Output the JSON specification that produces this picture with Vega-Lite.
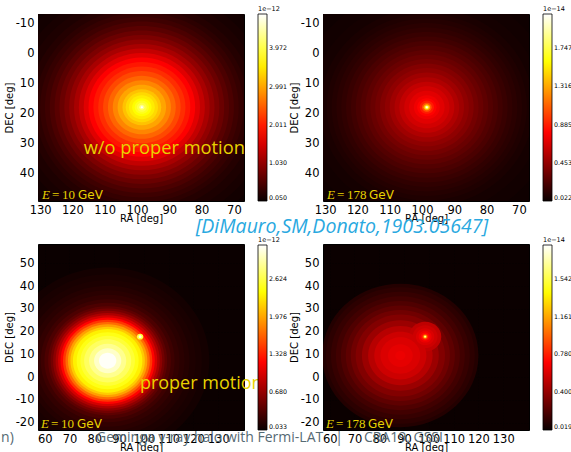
{
  "$schema": "https://vega.github.io/schema/vega-lite/v6.json",
  "padding": {"left": 0, "top": 5, "right": 0, "bottom": 0},
  "background": "white",
  "datasets": {
    "tl": [
      {"ra": 98.5, "dec": 17.8, "r": 47, "v": 0.08},
      {"ra": 98.5, "dec": 17.8, "r": 43, "v": 0.11},
      {"ra": 98.5, "dec": 17.8, "r": 40, "v": 0.14},
      {"ra": 98.5, "dec": 17.8, "r": 37.5, "v": 0.18},
      {"ra": 98.5, "dec": 17.8, "r": 35, "v": 0.23},
      {"ra": 98.5, "dec": 17.8, "r": 33, "v": 0.29},
      {"ra": 98.5, "dec": 17.8, "r": 31.5, "v": 0.35},
      {"ra": 98.5, "dec": 17.8, "r": 30, "v": 0.42},
      {"ra": 98.5, "dec": 17.8, "r": 28.5, "v": 0.51},
      {"ra": 98.5, "dec": 17.8, "r": 27, "v": 0.61},
      {"ra": 98.5, "dec": 17.8, "r": 25.5, "v": 0.73},
      {"ra": 98.5, "dec": 17.8, "r": 24, "v": 0.86},
      {"ra": 98.5, "dec": 17.8, "r": 22.5, "v": 1.01},
      {"ra": 98.5, "dec": 17.8, "r": 21, "v": 1.18},
      {"ra": 98.5, "dec": 17.8, "r": 19.5, "v": 1.37},
      {"ra": 98.5, "dec": 17.8, "r": 18, "v": 1.58},
      {"ra": 98.5, "dec": 17.8, "r": 16.5, "v": 1.8},
      {"ra": 98.5, "dec": 17.8, "r": 15, "v": 1.96},
      {"ra": 98.5, "dec": 17.8, "r": 13.5, "v": 2.13},
      {"ra": 98.5, "dec": 17.8, "r": 12, "v": 2.32},
      {"ra": 98.5, "dec": 17.8, "r": 10.5, "v": 2.53},
      {"ra": 98.5, "dec": 17.8, "r": 9, "v": 2.76},
      {"ra": 98.5, "dec": 17.8, "r": 7.5, "v": 2.98},
      {"ra": 98.5, "dec": 17.8, "r": 6, "v": 3.2},
      {"ra": 98.5, "dec": 17.8, "r": 5, "v": 3.36},
      {"ra": 98.5, "dec": 17.8, "r": 4, "v": 3.5},
      {"ra": 98.5, "dec": 17.8, "r": 3, "v": 3.63},
      {"ra": 98.5, "dec": 17.8, "r": 2.2, "v": 3.78},
      {"ra": 98.5, "dec": 17.8, "r": 1.5, "v": 3.95},
      {"ra": 98.5, "dec": 17.8, "r": 0.8, "v": 4.3},
      {"ra": 98.5, "dec": 17.8, "r": 0.35, "v": 4.8}
    ],
    "tr": [
      {"ra": 98.5, "dec": 17.8, "r": 45, "v": 0.035},
      {"ra": 98.5, "dec": 17.8, "r": 40, "v": 0.045},
      {"ra": 98.5, "dec": 17.8, "r": 36, "v": 0.055},
      {"ra": 98.5, "dec": 17.8, "r": 33, "v": 0.07},
      {"ra": 98.5, "dec": 17.8, "r": 31, "v": 0.085},
      {"ra": 98.5, "dec": 17.8, "r": 29.5, "v": 0.1},
      {"ra": 98.5, "dec": 17.8, "r": 28, "v": 0.12},
      {"ra": 98.5, "dec": 17.8, "r": 26.5, "v": 0.14},
      {"ra": 98.5, "dec": 17.8, "r": 25, "v": 0.165},
      {"ra": 98.5, "dec": 17.8, "r": 23.5, "v": 0.19},
      {"ra": 98.5, "dec": 17.8, "r": 22, "v": 0.22},
      {"ra": 98.5, "dec": 17.8, "r": 20.5, "v": 0.25},
      {"ra": 98.5, "dec": 17.8, "r": 19, "v": 0.285},
      {"ra": 98.5, "dec": 17.8, "r": 17.5, "v": 0.32},
      {"ra": 98.5, "dec": 17.8, "r": 16, "v": 0.355},
      {"ra": 98.5, "dec": 17.8, "r": 14.5, "v": 0.4},
      {"ra": 98.5, "dec": 17.8, "r": 13, "v": 0.44},
      {"ra": 98.5, "dec": 17.8, "r": 11.5, "v": 0.49},
      {"ra": 98.5, "dec": 17.8, "r": 10, "v": 0.54},
      {"ra": 98.5, "dec": 17.8, "r": 8.5, "v": 0.6},
      {"ra": 98.5, "dec": 17.8, "r": 7, "v": 0.65},
      {"ra": 98.5, "dec": 17.8, "r": 5.5, "v": 0.7},
      {"ra": 98.5, "dec": 17.8, "r": 4, "v": 0.75},
      {"ra": 98.5, "dec": 17.8, "r": 3, "v": 0.8},
      {"ra": 98.5, "dec": 17.8, "r": 2.2, "v": 0.88},
      {"ra": 98.5, "dec": 17.8, "r": 1.5, "v": 1.05},
      {"ra": 98.5, "dec": 17.8, "r": 1, "v": 1.35},
      {"ra": 98.5, "dec": 17.8, "r": 0.6, "v": 1.75},
      {"ra": 98.5, "dec": 17.8, "r": 0.3, "v": 2.1}
    ],
    "bl": [
      {"ra": 85.4, "dec": 7.2, "r": 41, "v": 0.075},
      {"ra": 85.4, "dec": 7.2, "r": 38, "v": 0.1},
      {"ra": 85.4, "dec": 7.2, "r": 35.5, "v": 0.12},
      {"ra": 85.4, "dec": 7.2, "r": 33, "v": 0.15},
      {"ra": 85.4, "dec": 7.2, "r": 31, "v": 0.18},
      {"ra": 85.4, "dec": 7.2, "r": 29, "v": 0.22},
      {"ra": 85.4, "dec": 7.2, "r": 27, "v": 0.27},
      {"ra": 85.4, "dec": 7.2, "r": 25.5, "v": 0.34},
      {"ra": 85.4, "dec": 7.2, "r": 24, "v": 0.42},
      {"ra": 85.4, "dec": 7.2, "r": 23, "v": 0.52},
      {"ra": 85.4, "dec": 7.2, "r": 22, "v": 0.65},
      {"ra": 85.4, "dec": 7.2, "r": 21, "v": 0.8},
      {"ra": 85.4, "dec": 7.2, "r": 20, "v": 0.98},
      {"ra": 85.4, "dec": 7.2, "r": 19, "v": 1.2},
      {"ra": 85.4, "dec": 7.2, "r": 18, "v": 1.45},
      {"ra": 85.4, "dec": 7.2, "r": 17, "v": 1.7},
      {"ra": 85.4, "dec": 7.2, "r": 16, "v": 1.95},
      {"ra": 85.4, "dec": 7.2, "r": 15, "v": 2.15},
      {"ra": 85.4, "dec": 7.2, "r": 14, "v": 2.33},
      {"ra": 85.4, "dec": 7.2, "r": 12.5, "v": 2.46},
      {"ra": 85.4, "dec": 7.2, "r": 11, "v": 2.57},
      {"ra": 85.4, "dec": 7.2, "r": 9.5, "v": 2.7},
      {"ra": 85.4, "dec": 7.2, "r": 7.5, "v": 2.85},
      {"ra": 85.4, "dec": 7.2, "r": 5.5, "v": 3.03},
      {"ra": 85.4, "dec": 7.2, "r": 3.5, "v": 3.18},
      {"ra": 98.5, "dec": 17.8, "r": 1.3, "v": 2.6},
      {"ra": 98.5, "dec": 17.8, "r": 0.6, "v": 3.1}
    ],
    "br": [
      {"ra": 88.5, "dec": 9.5, "r": 31.5, "v": 0.085},
      {"ra": 88.5, "dec": 9.5, "r": 30, "v": 0.11},
      {"ra": 88.5, "dec": 9.5, "r": 28, "v": 0.14},
      {"ra": 88.5, "dec": 9.5, "r": 26, "v": 0.17},
      {"ra": 88.5, "dec": 9.5, "r": 24, "v": 0.21},
      {"ra": 88.5, "dec": 9.5, "r": 22, "v": 0.25},
      {"ra": 88.5, "dec": 9.5, "r": 20, "v": 0.3},
      {"ra": 88.5, "dec": 9.5, "r": 18, "v": 0.35},
      {"ra": 88.5, "dec": 9.5, "r": 15.5, "v": 0.42},
      {"ra": 88.5, "dec": 9.5, "r": 13, "v": 0.5},
      {"ra": 88.5, "dec": 9.5, "r": 10.5, "v": 0.56},
      {"ra": 88.5, "dec": 9.5, "r": 8, "v": 0.6},
      {"ra": 88.5, "dec": 9.5, "r": 5, "v": 0.63},
      {"ra": 88.5, "dec": 9.5, "r": 2, "v": 0.65},
      {"ra": 98.5, "dec": 17.8, "r": 6.5, "v": 0.52},
      {"ra": 98.5, "dec": 17.8, "r": 5, "v": 0.56},
      {"ra": 98.5, "dec": 17.8, "r": 3.7, "v": 0.6},
      {"ra": 98.5, "dec": 17.8, "r": 2.6, "v": 0.65},
      {"ra": 98.5, "dec": 17.8, "r": 1.8, "v": 0.72},
      {"ra": 98.5, "dec": 17.8, "r": 1.2, "v": 0.84},
      {"ra": 98.5, "dec": 17.8, "r": 0.8, "v": 1.05},
      {"ra": 98.5, "dec": 17.8, "r": 0.5, "v": 1.45},
      {"ra": 98.5, "dec": 17.8, "r": 0.28, "v": 1.85}
    ]
  },
  "config": {
    "view": {"fill": "#0b0000", "stroke": "#000000", "strokeWidth": 1},
    "axis": {
      "labelFont": "DejaVu Sans", "labelFontSize": 11.5, "labelColor": "#000000",
      "titleFont": "DejaVu Sans", "titleFontSize": 10, "titleFontWeight": "normal", "titleColor": "#000000",
      "ticks": false, "domain": false, "grid": true, "gridColor": "#000000", "gridDash": [1, 2], "gridOpacity": 0.5,
      "labelFlush": false, "labelOverlap": false, "zindex": 1
    },
    "axisX": {"labelPadding": 3, "titlePadding": -2},
    "axisY": {"labelPadding": 4, "titlePadding": 1},
    "legend": {
      "orient": "none", "direction": "vertical", "padding": 0,
      "gradientThickness": 9, "labelFont": "DejaVu Sans", "labelFontSize": 6.3, "labelColor": "#000000",
      "titleFont": "DejaVu Sans", "titleFontSize": 6.5, "titleFontWeight": "normal", "titleColor": "#000000", "titlePadding": 1.5,
      "labelOffset": 2.5, "gradientStrokeColor": "#000000", "gradientStrokeWidth": 0.8, "labelFlush": false, "labelOverlap": false
    }
  },
  "columns": 2,
  "bounds": "flush",
  "spacing": {"row": 43, "column": 79},
  "resolve": {
    "scale": {"x": "independent", "y": "independent", "color": "independent", "size": "independent"},
    "axis": {"x": "independent", "y": "independent"},
    "legend": {"color": "independent"}
  },
  "concat": [
    {
      "width": 206, "height": 187,
      "layer": [
        {
          "data": {"name": "tl"},
          "mark": {"type": "point", "filled": true, "opacity": 1, "strokeWidth": 0, "clip": true, "shape": "M-1,0A1,0.931,0,1,1,1,0A1,0.931,0,1,1,-1,0Z"},
          "encoding": {
            "x": {"field": "ra", "type": "quantitative", "scale": {"domain": [66.87, 130.65], "reverse": true, "nice": false, "zero": false}, "axis": {"values": [130, 120, 110, 100, 90, 80, 70], "tickCount": 20, "title": "RA [deg]", "labelOverlap": false, "labelExpr": "replace(datum.label, '−', '-')"}},
            "y": {"field": "dec", "type": "quantitative", "scale": {"domain": [-13.2, 49.0], "reverse": true, "nice": false, "zero": false}, "axis": {"values": [-10, 0, 10, 20, 30, 40], "tickCount": 20, "title": "DEC [deg]", "labelOverlap": false, "labelExpr": "replace(datum.label, '−', '-')"}},
            "size": {"field": "r", "type": "quantitative", "scale": {"type": "pow", "exponent": 2, "domain": [0, 1], "range": [0, 41.73]}, "legend": null},
            "color": {"field": "v", "type": "quantitative", "scale": {"domain": [0.05, 1.804, 3.635, 4.855], "range": ["#0b0000", "#ff0000", "#ffff00", "#ffffff"], "interpolate": "rgb"},
              "legend": {"title": "1e−12", "values": [0.05, 1.03, 2.011, 2.991, 3.972], "format": ".3f", "legendX": 220, "legendY": -8, "gradientLength": 187}},
            "order": {"field": "v", "type": "quantitative"}
          }
        },
        {"data": {"values": [{}]}, "mark": {"type": "text", "font": "Open Sans", "fontSize": 18.3, "color": "#e8d200", "align": "left", "baseline": "alphabetic"},
          "encoding": {"x": {"datum": 116.5}, "y": {"datum": 33.5}, "text": {"value": "w/o proper motion"}}},
        {"data": {"values": [{}]}, "mark": {"type": "text", "font": "Liberation Serif", "fontStyle": "italic", "fontSize": 13, "color": "#e8d200", "align": "left", "baseline": "alphabetic"},
          "encoding": {"x": {"datum": 129.41}, "y": {"datum": 48.34}, "text": {"value": "E"}}},
        {"data": {"values": [{}]}, "mark": {"type": "text", "font": "Liberation Serif", "fontSize": 13, "color": "#e8d200", "align": "left", "baseline": "alphabetic", "dx": 10},
          "encoding": {"x": {"datum": 129.41}, "y": {"datum": 48.34}, "text": {"value": "="}}},
        {"data": {"values": [{}]}, "mark": {"type": "text", "font": "Liberation Serif", "fontSize": 13, "color": "#e8d200", "align": "left", "baseline": "alphabetic", "dx": 20},
          "encoding": {"x": {"datum": 129.41}, "y": {"datum": 48.34}, "text": {"value": "10"}}},
        {"data": {"values": [{}]}, "mark": {"type": "text", "font": "DejaVu Sans", "fontSize": 12, "color": "#e8d200", "align": "left", "baseline": "alphabetic", "dx": 36},
          "encoding": {"x": {"datum": 129.41}, "y": {"datum": 48.34}, "text": {"value": "GeV"}}}
      ]
    },
    {
      "width": 206, "height": 187,
      "layer": [
        {
          "data": {"name": "tr"},
          "mark": {"type": "point", "filled": true, "opacity": 1, "strokeWidth": 0, "clip": true, "shape": "M-1,0A1,0.931,0,1,1,1,0A1,0.931,0,1,1,-1,0Z"},
          "encoding": {
            "x": {"field": "ra", "type": "quantitative", "scale": {"domain": [66.87, 130.65], "reverse": true, "nice": false, "zero": false}, "axis": {"values": [130, 120, 110, 100, 90, 80, 70], "tickCount": 20, "title": "RA [deg]", "labelOverlap": false, "labelExpr": "replace(datum.label, '−', '-')"}},
            "y": {"field": "dec", "type": "quantitative", "scale": {"domain": [-13.2, 49.0], "reverse": true, "nice": false, "zero": false}, "axis": {"values": [-10, 0, 10, 20, 30, 40], "tickCount": 20, "title": "DEC [deg]", "labelOverlap": false, "labelExpr": "replace(datum.label, '−', '-')"}},
            "size": {"field": "r", "type": "quantitative", "scale": {"type": "pow", "exponent": 2, "domain": [0, 1], "range": [0, 41.73]}, "legend": null},
            "color": {"field": "v", "type": "quantitative", "scale": {"domain": [0.022, 0.793, 1.598, 2.135], "range": ["#0b0000", "#ff0000", "#ffff00", "#ffffff"], "interpolate": "rgb"},
              "legend": {"title": "1e−14", "values": [0.022, 0.453, 0.885, 1.316, 1.747], "format": ".3f", "legendX": 220, "legendY": -8, "gradientLength": 187}},
            "order": {"field": "v", "type": "quantitative"}
          }
        },
        {"data": {"values": [{}]}, "mark": {"type": "text", "font": "Liberation Serif", "fontStyle": "italic", "fontSize": 13, "color": "#e8d200", "align": "left", "baseline": "alphabetic"},
          "encoding": {"x": {"datum": 129.41}, "y": {"datum": 48.34}, "text": {"value": "E"}}},
        {"data": {"values": [{}]}, "mark": {"type": "text", "font": "Liberation Serif", "fontSize": 13, "color": "#e8d200", "align": "left", "baseline": "alphabetic", "dx": 10},
          "encoding": {"x": {"datum": 129.41}, "y": {"datum": 48.34}, "text": {"value": "="}}},
        {"data": {"values": [{}]}, "mark": {"type": "text", "font": "Liberation Serif", "fontSize": 13, "color": "#e8d200", "align": "left", "baseline": "alphabetic", "dx": 20},
          "encoding": {"x": {"datum": 129.41}, "y": {"datum": 48.34}, "text": {"value": "178"}}},
        {"data": {"values": [{}]}, "mark": {"type": "text", "font": "DejaVu Sans", "fontSize": 12, "color": "#e8d200", "align": "left", "baseline": "alphabetic", "dx": 42},
          "encoding": {"x": {"datum": 129.41}, "y": {"datum": 48.34}, "text": {"value": "GeV"}}},
        {"data": {"values": [{}]}, "mark": {"type": "text", "font": "Open Sans", "fontStyle": "italic", "fontSize": 19.5, "color": "#29a8e0", "align": "center", "baseline": "middle"},
          "encoding": {"x": {"datum": 124.8}, "y": {"datum": 57.5}, "text": {"value": "[DiMauro,SM,Donato,1903.05647]"}}}
      ]
    },
    {
      "width": 206, "height": 186,
      "layer": [
        {
          "data": {"name": "bl"},
          "mark": {"type": "point", "filled": true, "opacity": 1, "strokeWidth": 0, "clip": true, "shape": "M-1,0A1,0.918,0,1,1,1,0A1,0.918,0,1,1,-1,0Z"},
          "encoding": {
            "x": {"field": "ra", "type": "quantitative", "scale": {"domain": [57.3, 140.4], "nice": false, "zero": false}, "axis": {"values": [60, 70, 80, 90, 100, 110, 120, 130], "tickCount": 20, "title": "RA [deg]", "labelOverlap": false, "labelExpr": "replace(datum.label, '−', '-')"}},
            "y": {"field": "dec", "type": "quantitative", "scale": {"domain": [-23.2, 58.5], "nice": false, "zero": false}, "axis": {"values": [-20, -10, 0, 10, 20, 30, 40, 50], "tickCount": 20, "title": "DEC [deg]", "labelOverlap": false, "labelExpr": "replace(datum.label, '−', '-')"}},
            "size": {"field": "r", "type": "quantitative", "scale": {"type": "pow", "exponent": 2, "domain": [0, 1], "range": [0, 24.6]}, "legend": null},
            "color": {"field": "v", "type": "quantitative", "scale": {"domain": [0.033, 1.19, 2.398, 3.203], "range": ["#0b0000", "#ff0000", "#ffff00", "#ffffff"], "interpolate": "rgb"},
              "legend": {"title": "1e−12", "values": [0.033, 0.68, 1.328, 1.976, 2.624], "format": ".3f", "legendX": 220, "legendY": -7, "gradientLength": 185}},
            "order": {"field": "v", "type": "quantitative"}
          }
        },
        {"data": {"values": [{}]}, "mark": {"type": "text", "font": "Open Sans", "fontSize": 18, "color": "#e8d200", "align": "left", "baseline": "alphabetic"},
          "encoding": {"x": {"datum": 98.4}, "y": {"datum": -5.3}, "text": {"value": "proper motion"}}},
        {"data": {"values": [{}]}, "mark": {"type": "text", "font": "Liberation Serif", "fontStyle": "italic", "fontSize": 13, "color": "#e8d200", "align": "left", "baseline": "alphabetic"},
          "encoding": {"x": {"datum": 58.5}, "y": {"datum": -22.2}, "text": {"value": "E"}}},
        {"data": {"values": [{}]}, "mark": {"type": "text", "font": "Liberation Serif", "fontSize": 13, "color": "#e8d200", "align": "left", "baseline": "alphabetic", "dx": 10},
          "encoding": {"x": {"datum": 58.5}, "y": {"datum": -22.2}, "text": {"value": "="}}},
        {"data": {"values": [{}]}, "mark": {"type": "text", "font": "Liberation Serif", "fontSize": 13, "color": "#e8d200", "align": "left", "baseline": "alphabetic", "dx": 20},
          "encoding": {"x": {"datum": 58.5}, "y": {"datum": -22.2}, "text": {"value": "10"}}},
        {"data": {"values": [{}]}, "mark": {"type": "text", "font": "DejaVu Sans", "fontSize": 12, "color": "#e8d200", "align": "left", "baseline": "alphabetic", "dx": 36},
          "encoding": {"x": {"datum": 58.5}, "y": {"datum": -22.2}, "text": {"value": "GeV"}}},
        {"data": {"values": [{}]}, "mark": {"type": "text", "font": "Open Sans", "fontSize": 14, "color": "#566a74", "align": "left", "baseline": "middle"},
          "encoding": {"x": {"datum": 42.4}, "y": {"datum": -26.7}, "text": {"value": "n)"}}},
        {"data": {"values": [{}]}, "mark": {"type": "text", "font": "Open Sans", "fontSize": 14, "color": "#566a74", "align": "left", "baseline": "middle"},
          "encoding": {"x": {"datum": 80.7}, "y": {"datum": -26.7}, "text": {"value": "Geminga γ-ray halo with Fermi-LAT"}}}
      ]
    },
    {
      "width": 206, "height": 186,
      "layer": [
        {
          "data": {"name": "br"},
          "mark": {"type": "point", "filled": true, "opacity": 1, "strokeWidth": 0, "clip": true, "shape": "M-1,0A1,0.918,0,1,1,1,0A1,0.918,0,1,1,-1,0Z"},
          "encoding": {
            "x": {"field": "ra", "type": "quantitative", "scale": {"domain": [57.3, 140.4], "nice": false, "zero": false}, "axis": {"values": [60, 70, 80, 90, 100, 110, 120, 130], "tickCount": 20, "title": "RA [deg]", "labelOverlap": false, "labelExpr": "replace(datum.label, '−', '-')"}},
            "y": {"field": "dec", "type": "quantitative", "scale": {"domain": [-23.2, 58.5], "nice": false, "zero": false}, "axis": {"values": [-20, -10, 0, 10, 20, 30, 40, 50], "tickCount": 20, "title": "DEC [deg]", "labelOverlap": false, "labelExpr": "replace(datum.label, '−', '-')"}},
            "size": {"field": "r", "type": "quantitative", "scale": {"type": "pow", "exponent": 2, "domain": [0, 1], "range": [0, 24.6]}, "legend": null},
            "color": {"field": "v", "type": "quantitative", "scale": {"domain": [0.019, 0.7, 1.41, 1.883], "range": ["#0b0000", "#ff0000", "#ffff00", "#ffffff"], "interpolate": "rgb"},
              "legend": {"title": "1e−14", "values": [0.019, 0.4, 0.78, 1.161, 1.542], "format": ".3f", "legendX": 220, "legendY": -7, "gradientLength": 185}},
            "order": {"field": "v", "type": "quantitative"}
          }
        },
        {"data": {"values": [{}]}, "mark": {"type": "text", "font": "Liberation Serif", "fontStyle": "italic", "fontSize": 13, "color": "#e8d200", "align": "left", "baseline": "alphabetic"},
          "encoding": {"x": {"datum": 58.5}, "y": {"datum": -22.2}, "text": {"value": "E"}}},
        {"data": {"values": [{}]}, "mark": {"type": "text", "font": "Liberation Serif", "fontSize": 13, "color": "#e8d200", "align": "left", "baseline": "alphabetic", "dx": 10},
          "encoding": {"x": {"datum": 58.5}, "y": {"datum": -22.2}, "text": {"value": "="}}},
        {"data": {"values": [{}]}, "mark": {"type": "text", "font": "Liberation Serif", "fontSize": 13, "color": "#e8d200", "align": "left", "baseline": "alphabetic", "dx": 20},
          "encoding": {"x": {"datum": 58.5}, "y": {"datum": -22.2}, "text": {"value": "178"}}},
        {"data": {"values": [{}]}, "mark": {"type": "text", "font": "DejaVu Sans", "fontSize": 12, "color": "#e8d200", "align": "left", "baseline": "alphabetic", "dx": 42},
          "encoding": {"x": {"datum": 58.5}, "y": {"datum": -22.2}, "text": {"value": "GeV"}}},
        {"data": {"values": [{}]}, "mark": {"type": "text", "font": "Open Sans", "fontSize": 14, "color": "#566a74", "align": "center", "baseline": "middle"},
          "encoding": {"x": {"datum": 63.75}, "y": {"datum": -26.7}, "text": {"value": "|"}}},
        {"data": {"values": [{}]}, "mark": {"type": "text", "font": "Open Sans", "fontSize": 14, "color": "#566a74", "align": "left", "baseline": "middle"},
          "encoding": {"x": {"datum": 73.8}, "y": {"datum": -26.7}, "text": {"value": "CRA19, GSSI"}}}
      ]
    }
  ]
}
